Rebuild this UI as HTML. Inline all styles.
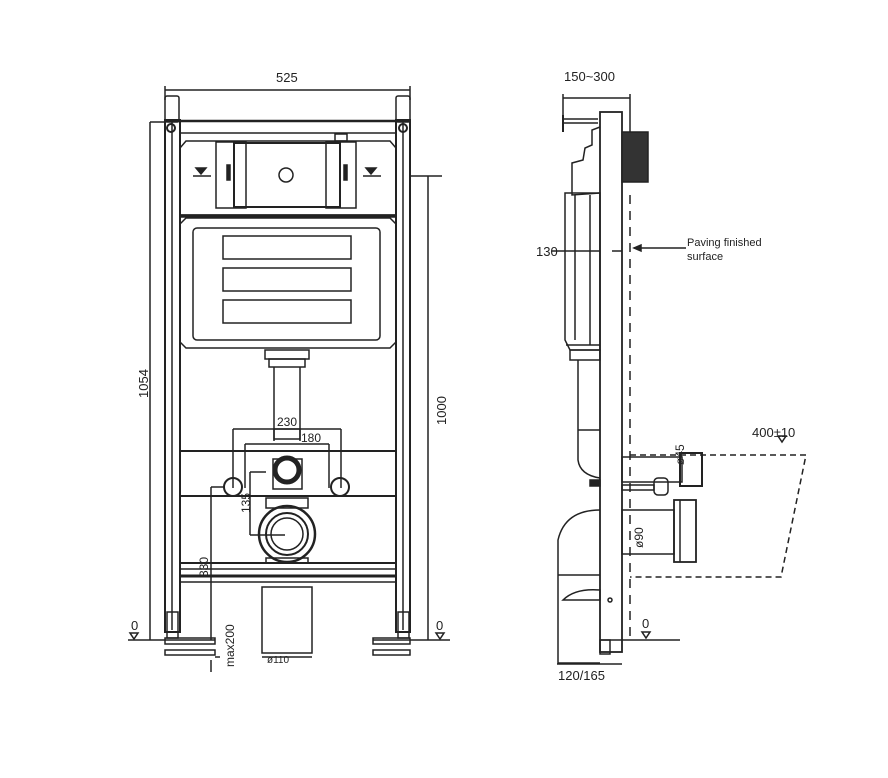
<!DOCTYPE html>
<html><head><meta charset="utf-8"><style>
html,body{margin:0;padding:0;background:#fff;}
svg{display:block;}
text{font-family:"Liberation Sans",sans-serif;fill:#222;}
</style></head><body>
<svg width="888" height="778" viewBox="0 0 888 778" xmlns="http://www.w3.org/2000/svg">
<g stroke="#222" fill="none" stroke-width="1.5">
<line x1="165" y1="90" x2="410" y2="90"/>
<line x1="165" y1="86" x2="165" y2="100"/><line x1="410" y1="86" x2="410" y2="100"/>
<rect x="165" y="96" width="14" height="26" rx="2"/>
<rect x="396" y="96" width="14" height="26" rx="2"/>
<rect x="165" y="120" width="15" height="512" stroke-width="2"/>
<line x1="172" y1="122" x2="172" y2="630"/>
<rect x="396" y="120" width="14" height="512" stroke-width="2"/>
<line x1="403" y1="122" x2="403" y2="630"/>
<circle cx="171" cy="128" r="4" stroke-width="2"/>
<circle cx="403" cy="128" r="4" stroke-width="2"/>
<line x1="165" y1="121" x2="410" y2="121" stroke-width="2.5"/>
<line x1="180" y1="133" x2="396" y2="133"/>
<path d="M186 141 H390 L396 148 V215 H180 V148 Z"/>
<rect x="216" y="142" width="30" height="66"/>
<rect x="326" y="142" width="30" height="66"/>
<rect x="234" y="143" width="106" height="64" stroke-width="2"/>
<circle cx="286" cy="175" r="7"/>
<rect x="335" y="134" width="12" height="7"/>
<path d="M196 168 h10 l-5 6 z M193 176 h18" fill="#222"/>
<path d="M366 168 h10 l-5 6 z M363 176 h18" fill="#222"/>
<rect x="227" y="165" width="3" height="15" fill="#222"/>
<rect x="344" y="165" width="3" height="15" fill="#222"/>
<line x1="180" y1="216" x2="396" y2="216" stroke-width="3.5"/>
<path d="M186 218 H390 L396 224 V342 L390 348 H186 L180 342 V224 Z"/>
<rect x="193" y="228" width="187" height="112" rx="4"/>
<rect x="223" y="236" width="128" height="23"/>
<rect x="223" y="268" width="128" height="23"/>
<rect x="223" y="300" width="128" height="23"/>
<rect x="265" y="350" width="44" height="9"/>
<rect x="269" y="359" width="36" height="8"/>
<line x1="274" y1="367" x2="274" y2="441"/><line x1="300" y1="367" x2="300" y2="441"/>
<rect x="274" y="429" width="26" height="10"/>
<line x1="233" y1="429" x2="341" y2="429"/>
<line x1="233" y1="429" x2="233" y2="488"/><line x1="341" y1="429" x2="341" y2="488"/>
<line x1="245" y1="444" x2="329" y2="444"/>
<line x1="245" y1="444" x2="245" y2="488"/><line x1="329" y1="444" x2="329" y2="488"/>
<line x1="180" y1="451" x2="396" y2="451" stroke-width="2"/>
<line x1="180" y1="496" x2="396" y2="496" stroke-width="2"/>
<rect x="273" y="459" width="29" height="30"/>
<circle cx="287" cy="470" r="12" stroke-width="5"/>
<circle cx="233" cy="487" r="9" stroke-width="2"/>
<circle cx="340" cy="487" r="9" stroke-width="2"/>
<line x1="211" y1="487" x2="225" y2="487"/>
<line x1="211" y1="487" x2="211" y2="640"/>
<line x1="250" y1="472" x2="266" y2="472"/>
<line x1="250" y1="472" x2="250" y2="535"/>
<line x1="250" y1="535" x2="285" y2="535"/>
<rect x="266" y="498" width="42" height="10"/>
<circle cx="287" cy="534" r="28" stroke-width="2.5"/>
<circle cx="287" cy="534" r="21" stroke-width="2"/>
<circle cx="287" cy="534" r="16"/>
<rect x="266" y="558" width="42" height="5"/>
<line x1="180" y1="563" x2="396" y2="563" stroke-width="2"/>
<line x1="180" y1="569" x2="396" y2="569"/>
<line x1="180" y1="576" x2="396" y2="576" stroke-width="3"/>
<line x1="180" y1="582" x2="396" y2="582"/>
<rect x="262" y="587" width="50" height="66"/>
<line x1="262" y1="657" x2="312" y2="657"/>
<rect x="167" y="612" width="11" height="26"/>
<rect x="165" y="638" width="50" height="6"/>
<rect x="165" y="650" width="50" height="5"/>
<rect x="398" y="612" width="11" height="26"/>
<rect x="373" y="638" width="37" height="6"/>
<rect x="373" y="650" width="37" height="5"/>
<line x1="150" y1="122" x2="165" y2="122"/>
<line x1="150" y1="122" x2="150" y2="640"/>
<line x1="410" y1="176" x2="442" y2="176"/>
<line x1="428" y1="176" x2="428" y2="640"/>
<line x1="128" y1="640" x2="215" y2="640"/>
<line x1="373" y1="640" x2="450" y2="640"/>
<path d="M130 633 h8 l-4 6 z"/>
<path d="M436 633 h8 l-4 6 z"/>
<line x1="215" y1="657" x2="220" y2="657"/><line x1="211" y1="660" x2="211" y2="672"/>
<line x1="563" y1="98" x2="630" y2="98"/>
<line x1="563" y1="94" x2="563" y2="132"/><line x1="630" y1="94" x2="630" y2="145"/>
<line x1="563" y1="115" x2="563" y2="132" stroke-width="2"/>
<line x1="563" y1="119" x2="598" y2="119"/><line x1="563" y1="123" x2="598" y2="123"/>
<rect x="600" y="112" width="22" height="540" stroke-width="1.8"/>
<rect x="622" y="132" width="26" height="50" fill="#333"/>
<line x1="630" y1="195" x2="630" y2="640" stroke-dasharray="9,7" stroke-width="1.5"/>
<path d="M600 127 L592 130 V145 L585 148 L583 160 L572 163 V195 L600 193"/>
<path d="M565 193 H600 V350 H570 L565 340 Z"/>
<line x1="575" y1="195" x2="575" y2="340"/>
<line x1="590" y1="195" x2="590" y2="345"/>
<line x1="566" y1="345" x2="600" y2="345"/>
<rect x="570" y="350" width="30" height="10"/>
<path d="M578 360 V460 Q580 475 600 478"/>
<line x1="578" y1="430" x2="600" y2="430"/>
<rect x="590" y="480" width="10" height="6" fill="#222"/>
<path d="M600 510 Q565 510 558 540 V663 H600"/>
<line x1="558" y1="575" x2="600" y2="575"/>
<path d="M563 600 Q575 588 600 590 V600 Z"/>
<rect x="600" y="640" width="10" height="14"/>
<circle cx="610" cy="600" r="2"/>
<line x1="552" y1="251" x2="600" y2="251"/>
<line x1="612" y1="251" x2="622" y2="251"/>
<line x1="634" y1="248" x2="686" y2="248"/>
<path d="M634 248 l7 -3 v6 z" fill="#222"/>
<path d="M630 455 H806 L781 577 H630" stroke-dasharray="6,4"/>
<path d="M778 436 h8 l-4 6 z"/>
<rect x="622" y="457" width="60" height="25"/>
<rect x="680" y="453" width="22" height="33" stroke-width="2"/>
<rect x="622" y="485" width="32" height="5"/>
<rect x="654" y="478" width="14" height="17" rx="4"/>
<rect x="622" y="510" width="52" height="44"/>
<rect x="674" y="500" width="22" height="62" stroke-width="1.8"/>
<line x1="680" y1="500" x2="680" y2="562"/>
<line x1="600" y1="640" x2="680" y2="640"/>
<path d="M642 632 h8 l-4 6 z"/>
<line x1="557" y1="664" x2="622" y2="664"/>
</g>
<g font-size="13">
<text x="276" y="82">525</text>
<text transform="translate(148,398) rotate(-90)">1054</text>
<text transform="translate(446,425) rotate(-90)">1000</text>
<text x="277" y="426" font-size="12">230</text>
<text x="301" y="442" font-size="12">180</text>
<text transform="translate(250,513) rotate(-90)" font-size="12">135</text>
<text transform="translate(208,577) rotate(-90)" font-size="12">330</text>
<text transform="translate(234,667) rotate(-90)" font-size="12">max200</text>
<text x="267" y="663" font-size="10">ø110</text>
<text x="131" y="630">0</text>
<text x="436" y="630">0</text>
<text x="564" y="81">150~300</text>
<text x="536" y="256">130</text>
<text x="687" y="246" font-size="11">Paving finished</text>
<text x="687" y="260" font-size="11">surface</text>
<text x="752" y="437">400±10</text>
<text transform="translate(684,465) rotate(-90)" font-size="12">ø45</text>
<text transform="translate(643,548) rotate(-90)" font-size="12">ø90</text>
<text x="642" y="628">0</text>
<text x="558" y="680">120/165</text>
</g>
</svg>
</body></html>
